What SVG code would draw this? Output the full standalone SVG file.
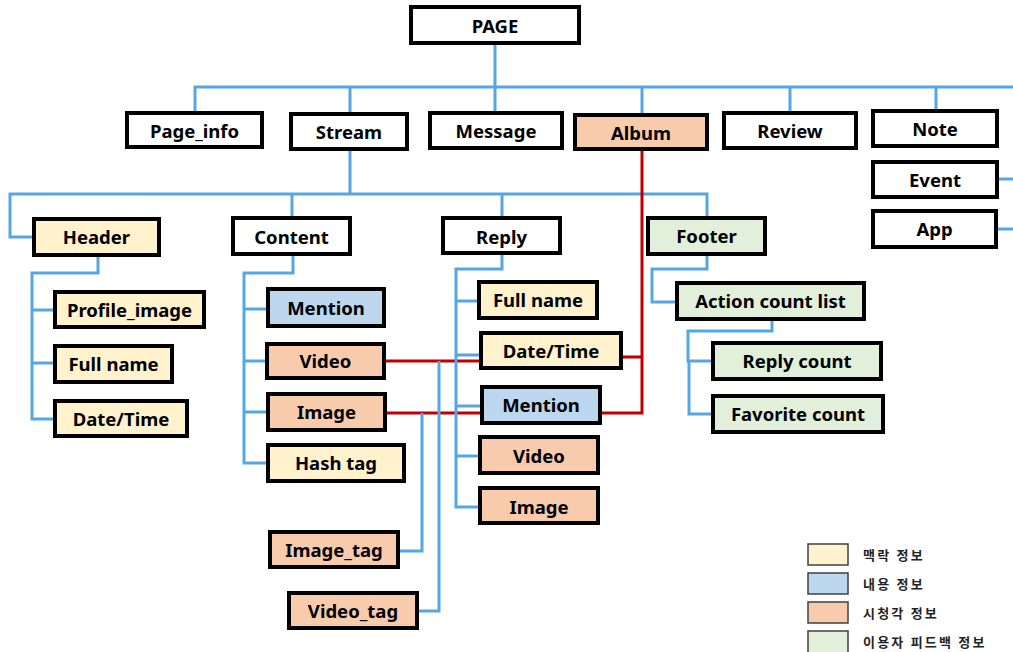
<svg xmlns="http://www.w3.org/2000/svg" width="1013" height="652" viewBox="0 0 1013 652">
<style>
.n rect{stroke:#000;stroke-width:4}
.n text{font-family:"Noto Sans","Open Sans",sans-serif;font-weight:bold;font-size:18.5px;fill:#000;text-anchor:middle;dominant-baseline:central}
.w{fill:#fff}.y{fill:#fff2cc}.b{fill:#bdd7ee}.o{fill:#f8cbad}.g{fill:#e2efda}
.bl{fill:none;stroke:#56a6e4;stroke-width:3}
.rd{fill:none;stroke:#c00000;stroke-width:3}
.lg rect{stroke:#404040;stroke-width:1.5}
.lg text{font-family:"Noto Sans CJK KR","Noto Sans",sans-serif;font-size:13px;font-weight:bold;letter-spacing:2.2px;fill:#222;dominant-baseline:central}
</style>
<rect width="1013" height="652" fill="#fff"/>
<g id="connectors">
<path class="bl" d="M195,112 V87 H1013 M495,43 V113 M350,87 V114 M642,87 V115 M790,87 V113 M936,87 V111 M997,179 H1013 M996,229 H1013"/>
<path class="bl" d="M350,150 V194 M34,237 H10 V194 H707 V218 M292,194 V218 M502,194 V218"/>
<path class="rd" d="M384,361 H481 M385,413 H482 M621,357 H642 M642,149 V413 H600"/>
<path class="bl" d="M98,255 V273 H32 V419 H55 M32,310 H55 M32,363 H55"/>
<path class="bl" d="M293,254 V273 H244 V463 H268 M244,309 H268 M244,361 H267 M244,412 H268"/>
<path class="bl" d="M502,253 V269 H456 V507 H480 M456,301 H479 M456,355 H481 M456,406 H482 M456,456 H480"/>
<path class="bl" d="M707,254 V269 H652 V302 H677 M772,319 V331 H688 V361 H713 M689,361 V414 H713"/>
<path class="bl" d="M398,551 H422 V413 M417,611 H439 V361"/>
</g>
<g id="page" class="n"><rect class="w" x="411" y="7" width="168" height="36"/><text x="495" y="25">PAGE</text></g>
<g id="page_info" class="n"><rect class="w" x="127" y="113" width="135" height="34"/><text x="194.5" y="130">Page_info</text></g>
<g id="stream" class="n"><rect class="w" x="291" y="114" width="116" height="35"/><text x="349" y="131">Stream</text></g>
<g id="message" class="n"><rect class="w" x="430" y="113" width="132" height="35"/><text x="496" y="130.5">Message</text></g>
<g id="album" class="n"><rect class="o" x="575" y="115" width="132" height="34"/><text x="641" y="132">Album</text></g>
<g id="review" class="n"><rect class="w" x="724" y="113" width="132" height="35"/><text x="790" y="130">Review</text></g>
<g id="note" class="n"><rect class="w" x="873" y="111" width="124" height="35"/><text x="935" y="128">Note</text></g>
<g id="event" class="n"><rect class="w" x="873" y="162" width="124" height="35"/><text x="935" y="179">Event</text></g>
<g id="app" class="n"><rect class="w" x="873" y="211" width="123" height="36"/><text x="934.5" y="228">App</text></g>
<g id="header" class="n"><rect class="y" x="34" y="219" width="125" height="36"/><text x="96.5" y="236.5">Header</text></g>
<g id="content" class="n"><rect class="w" x="233" y="218" width="117" height="36"/><text x="291.5" y="236">Content</text></g>
<g id="reply" class="n"><rect class="w" x="443" y="218" width="117" height="35"/><text x="501.5" y="236">Reply</text></g>
<g id="footer" class="n"><rect class="g" x="648" y="218" width="117" height="36"/><text x="706.5" y="235.5">Footer</text></g>
<g id="h_profile_image" class="n"><rect class="y" x="55" y="292" width="149" height="35"/><text x="129.5" y="309.5">Profile_image</text></g>
<g id="h_full_name" class="n"><rect class="y" x="55" y="346" width="117" height="36"/><text x="113.5" y="363.5">Full name</text></g>
<g id="h_date_time" class="n"><rect class="y" x="55" y="401" width="132" height="35"/><text x="121" y="418.5">Date/Time</text></g>
<g id="c_mention" class="n"><rect class="b" x="268" y="289" width="116" height="37"/><text x="326" y="307">Mention</text></g>
<g id="c_video" class="n"><rect class="o" x="267" y="344" width="117" height="34"/><text x="325.5" y="360.5">Video</text></g>
<g id="c_image" class="n"><rect class="o" x="268" y="394" width="117" height="36"/><text x="326.5" y="411.5">Image</text></g>
<g id="c_hash_tag" class="n"><rect class="y" x="268" y="445" width="136" height="36"/><text x="336" y="462.5">Hash tag</text></g>
<g id="image_tag" class="n"><rect class="o" x="270" y="532" width="128" height="35"/><text x="334" y="549">Image_tag</text></g>
<g id="video_tag" class="n"><rect class="o" x="289" y="593" width="128" height="35"/><text x="353" y="610">Video_tag</text></g>
<g id="r_full_name" class="n"><rect class="y" x="479" y="282" width="118" height="36"/><text x="538" y="299.5">Full name</text></g>
<g id="r_date_time" class="n"><rect class="y" x="481" y="333" width="140" height="35"/><text x="551" y="350">Date/Time</text></g>
<g id="r_mention" class="n"><rect class="b" x="482" y="387" width="118" height="36"/><text x="541" y="404.5">Mention</text></g>
<g id="r_video" class="n"><rect class="o" x="480" y="437" width="118" height="36"/><text x="539" y="455">Video</text></g>
<g id="r_image" class="n"><rect class="o" x="480" y="488" width="118" height="35"/><text x="539" y="506">Image</text></g>
<g id="action_count_list" class="n"><rect class="g" x="677" y="283" width="187" height="36"/><text x="770.5" y="300.5">Action count list</text></g>
<g id="reply_count" class="n"><rect class="g" x="713" y="343" width="168" height="36"/><text x="797" y="360.5">Reply count</text></g>
<g id="favorite_count" class="n"><rect class="g" x="713" y="396" width="170" height="36"/><text x="798" y="413.5">Favorite count</text></g>
<g id="legend" class="lg">
<rect class="y" x="808" y="544" width="40" height="21"/><text x="863" y="554">맥락 정보</text>
<rect class="b" x="808" y="573" width="40" height="21"/><text x="863" y="583">내용 정보</text>
<rect class="o" x="808" y="602" width="40" height="21"/><text x="863" y="612">시청각 정보</text>
<rect class="g" x="808" y="631" width="40" height="23"/><text x="863" y="641">이용자 피드백 정보</text>
</g>
</svg>
